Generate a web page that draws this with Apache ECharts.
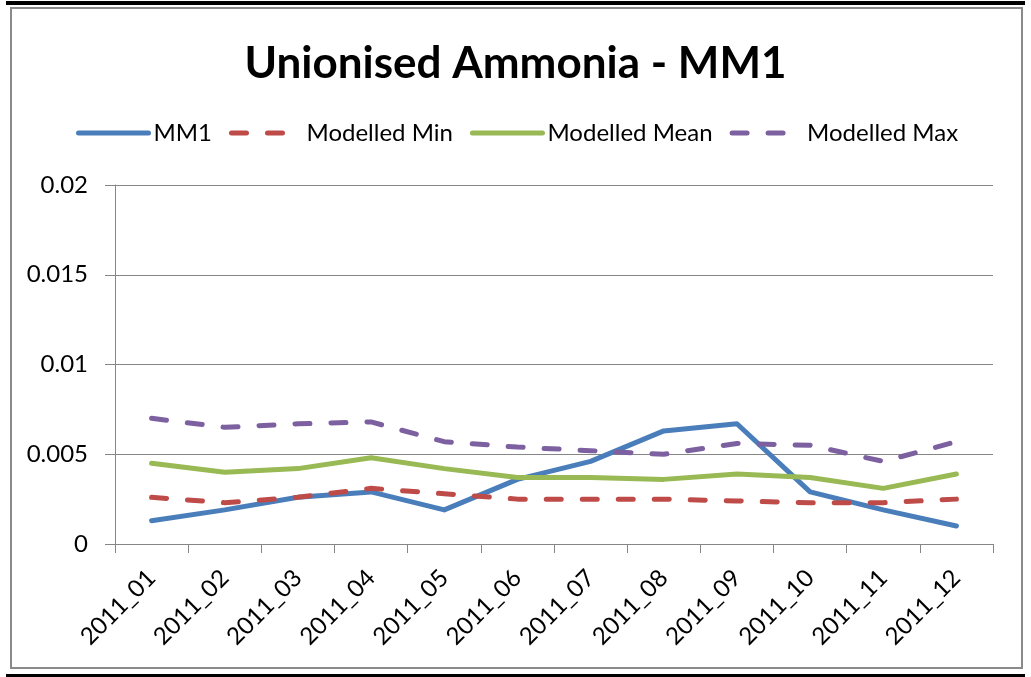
<!DOCTYPE html>
<html>
<head>
<meta charset="utf-8">
<title>Unionised Ammonia - MM1</title>
<script src="https://cdn.jsdelivr.net/npm/echarts@6/dist/echarts.min.js"></script>
<style>
  html, body { margin: 0; padding: 0; background: #fff; }
  #chart { width: 1031px; height: 677px; }
</style>
</head>
<body>
<div id="chart"></div>
<script>
// data
const months = ['2011_01', '2011_02', '2011_03', '2011_04', '2011_05', '2011_06',
  '2011_07', '2011_08', '2011_09', '2011_10', '2011_11', '2011_12']
const mm1 = [0.0013, 0.0019, 0.0026, 0.0029, 0.0019, 0.0036, 0.0046, 0.0063, 0.0067, 0.0029, 0.0019, 0.0010]
const modelledMin = [0.0026, 0.0023, 0.0026, 0.0031, 0.0028, 0.0025, 0.0025, 0.0025, 0.0024, 0.0023, 0.0023, 0.0025]
const modelledMean = [0.0045, 0.0040, 0.0042, 0.0048, 0.0042, 0.0037, 0.0037, 0.0036, 0.0039, 0.0037, 0.0031, 0.0039]
const modelledMax = [0.0070, 0.0065, 0.0067, 0.0068, 0.0057, 0.0054, 0.0052, 0.0050, 0.0056, 0.0055, 0.0046, 0.0057]

const font = 'Lato, "Open Sans", sans-serif'
const gridGray = '#868686'

function lineSeries(name, data, color, dashed) {
  return {
    name: name,
    type: 'line',
    data: data,
    symbol: 'none',
    showSymbol: false,
    animation: false,
    lineStyle: {
      color: color,
      width: 5,
      type: dashed ? [15, 21] : 'solid',
      cap: 'round',
      join: 'round'
    },
    itemStyle: { color: color }
  }
}

const chart = echarts.init(document.getElementById('chart'))
chart.setOption({
  backgroundColor: '#fff',
  textStyle: { fontFamily: font },
  title: {
    text: 'Unionised Ammonia - MM1',
    left: 'center',
    top: 37,
    textStyle: { fontFamily: font, fontSize: 44, fontWeight: 'bold', color: '#000' }
  },
  legend: {
    left: 71,
    top: 116,
    itemWidth: 70,
    itemHeight: 20,
    itemGap: 17,
    itemStyle: { opacity: 0 },
    lineStyle: { width: 5, cap: 'round' },
    textStyle: { fontFamily: font, fontSize: 24, color: '#000' },
    data: ['MM1', 'Modelled Min', 'Modelled Mean', 'Modelled Max']
  },
  grid: {
    left: 115,
    right: 38,
    top: 185,
    bottom: 133
  },
  xAxis: {
    type: 'category',
    data: months,
    boundaryGap: true,
    axisLine: { lineStyle: { color: gridGray, width: 1 } },
    axisTick: { show: true, length: 9, lineStyle: { color: gridGray } },
    axisLabel: {
      rotate: 45,
      margin: 30,
      fontFamily: font,
      fontSize: 24,
      color: '#000'
    }
  },
  yAxis: {
    type: 'value',
    min: 0,
    max: 0.02,
    interval: 0.005,
    axisLine: { show: true, lineStyle: { color: gridGray, width: 1 } },
    axisTick: { show: true, length: 10, lineStyle: { color: gridGray } },
    splitLine: { show: true, lineStyle: { color: gridGray, width: 1 } },
    axisLabel: {
      margin: 27,
      fontFamily: font,
      fontSize: 24,
      color: '#000'
    }
  },
  series: [
    lineSeries('MM1', mm1, '#4A7EBB', false),
    lineSeries('Modelled Min', modelledMin, '#BE4B48', true),
    lineSeries('Modelled Mean', modelledMean, '#98B954', false),
    lineSeries('Modelled Max', modelledMax, '#7D60A0', true)
  ],
  graphic: [
    // chart area frame and the black page rules above and below it
    { type: 'rect', shape: { x: 11, y: 8, width: 1011, height: 660 }, style: { fill: 'none', stroke: '#8a8a8a', lineWidth: 2 }, silent: true },
    { type: 'rect', shape: { x: 6, y: 1, width: 1019, height: 4 }, style: { fill: '#000' }, silent: true },
    { type: 'rect', shape: { x: 6, y: 674, width: 1019, height: 3 }, style: { fill: '#000' }, silent: true }
  ]
})
</script>
</body>
</html>
